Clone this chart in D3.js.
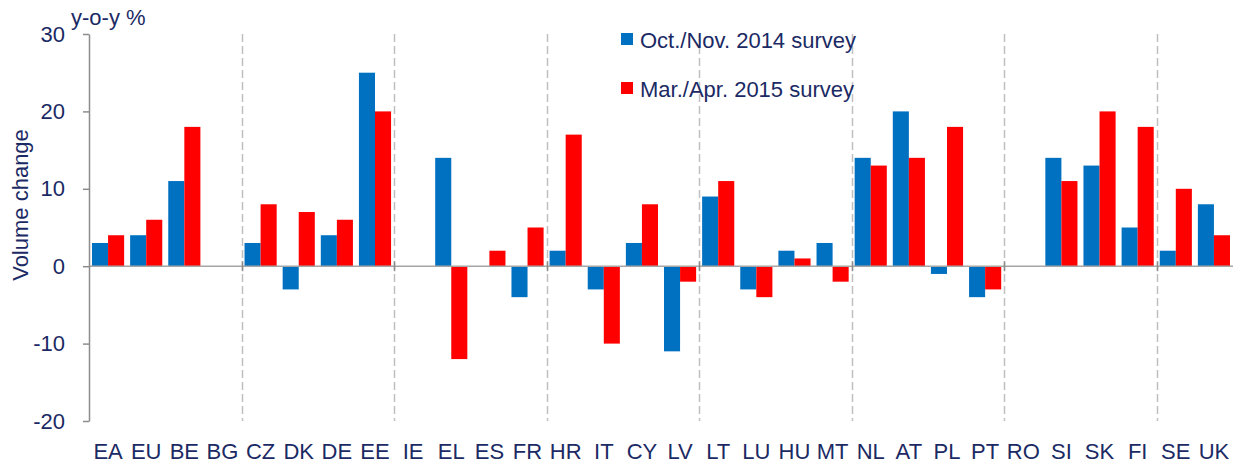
<!DOCTYPE html>
<html>
<head>
<meta charset="utf-8">
<script src="https://cdn.jsdelivr.net/npm/d3@7"></script>
<style>
  body { margin: 0; background: #fff; }
  svg text { font-family: "Liberation Sans", Arial, sans-serif; fill: #1b2a64; }
</style>
</head>
<body>
<svg id="chart"></svg>
<script>
const categories = ["EA","EU","BE","BG","CZ","DK","DE","EE","IE","EL","ES","FR","HR","IT","CY","LV","LT","LU","HU","MT","NL","AT","PL","PT","RO","SI","SK","FI","SE","UK"];
const oct2014 = [3,4,11,null,3,-3,4,25,null,14,null,-4,2,-3,3,-11,9,-3,2,3,14,20,-1,-4,null,14,13,5,2,8];
const mar2015 = [4,6,18,null,8,7,6,20,null,-12,2,5,17,-10,8,-2,11,-4,1,-2,13,14,18,-3,null,11,20,18,10,4];
const seriesNames = ["Oct./Nov. 2014 survey", "Mar./Apr. 2015 survey"];
const seriesColors = ["#0070c0", "#ff0000"];
const yTicks = [-20, -10, 0, 10, 20, 30];
const groupBreaks = [4, 8, 12, 16, 20, 24, 28];

const W = 1242, H = 468;
const plot = {l: 89, r: 1233, t: 34, b: 421};
const fontSize = 22;

const svg = d3.select('#chart')
    .attr('width', W)
    .attr('height', H);

const scaleX = d3.scaleBand()
    .domain(categories)
    .range([plot.l, plot.r]);

const scaleSeries = d3.scaleBand()
    .domain([0, 1])
    .range([3, scaleX.bandwidth() - 3]);

const scaleY = d3.scaleLinear()
    .domain([-20, 30])
    .range([plot.b, plot.t]);

// dashed group separators
svg.append('g')
    .selectAll('line')
    .data(groupBreaks)
    .join('line')
    .attr('x1', i => Math.round(scaleX(categories[i])) + 0.5)
    .attr('x2', i => Math.round(scaleX(categories[i])) + 0.5)
    .attr('y1', plot.t)
    .attr('y2', plot.b)
    .attr('stroke', '#c0c0c0')
    .attr('stroke-width', 1.5)
    .attr('stroke-dasharray', '8,4');

// bars
const rows = [];
categories.forEach((c, i) => {
    [oct2014[i], mar2015[i]].forEach((v, s) => {
        if (v !== null) rows.push({cat: c, s: s, v: v});
    });
});

svg.append('g')
    .selectAll('rect')
    .data(rows)
    .join('rect')
    .attr('x', d => scaleX(d.cat) + scaleSeries(d.s))
    .attr('width', scaleSeries.bandwidth())
    .attr('y', d => scaleY(Math.max(0, d.v)))
    .attr('height', d => Math.abs(scaleY(d.v) - scaleY(0)))
    .attr('fill', d => seriesColors[d.s]);

// zero line + small ticks at group breaks
const y0 = scaleY(0);
svg.append('line')
    .attr('x1', plot.l).attr('x2', plot.r)
    .attr('y1', y0).attr('y2', y0)
    .attr('stroke', '#a6a6a6')
    .attr('stroke-width', 1.5);

svg.append('g')
    .selectAll('line')
    .data(groupBreaks)
    .join('line')
    .attr('x1', i => Math.round(scaleX(categories[i])) + 0.5)
    .attr('x2', i => Math.round(scaleX(categories[i])) + 0.5)
    .attr('y1', y0 - 5)
    .attr('y2', y0 + 5)
    .attr('stroke', '#8c8c8c')
    .attr('stroke-width', 1.5);

// y axis (hyphen minus like the original)
const axisY = d3.axisLeft(scaleY)
    .tickValues(yTicks)
    .tickFormat(d => String(d))
    .tickSize(6)
    .tickPadding(18)
    .tickSizeOuter(0);

const axisYG = svg.append('g')
    .attr('transform', `translate(${plot.l}, 0)`)
    .call(axisY);
axisYG.select('.domain').attr('stroke', '#8c8c8c').attr('stroke-width', 1.5);
axisYG.selectAll('.tick line').attr('stroke', '#8c8c8c').attr('stroke-width', 1.5);
axisYG.selectAll('.tick text')
    .attr('font-size', fontSize)
    .attr('fill', '#1b2a64')
    .style('font-family', '"Liberation Sans", Arial, sans-serif');

// x labels
svg.append('g')
    .selectAll('text')
    .data(categories)
    .join('text')
    .attr('x', d => scaleX(d) + scaleX.bandwidth() / 2)
    .attr('y', 459)
    .attr('text-anchor', 'middle')
    .attr('font-size', fontSize)
    .text(d => d);

// axis titles
svg.append('text')
    .attr('x', 71)
    .attr('y', 25)
    .attr('font-size', fontSize)
    .text('y-o-y %');

svg.append('text')
    .attr('transform', 'translate(28, 205) rotate(-90)')
    .attr('text-anchor', 'middle')
    .attr('font-size', fontSize)
    .text('Volume change');

// legend
const legend = svg.append('g')
    .selectAll('g')
    .data(seriesNames)
    .join('g')
    .attr('transform', (d, i) => `translate(621, ${33 + i * 49})`);

legend.append('rect')
    .attr('width', 12)
    .attr('height', 12)
    .attr('fill', (d, i) => seriesColors[i]);

legend.append('text')
    .attr('x', 19)
    .attr('y', 15)
    .attr('font-size', fontSize)
    .text(d => d);
</script>
</body>
</html>
